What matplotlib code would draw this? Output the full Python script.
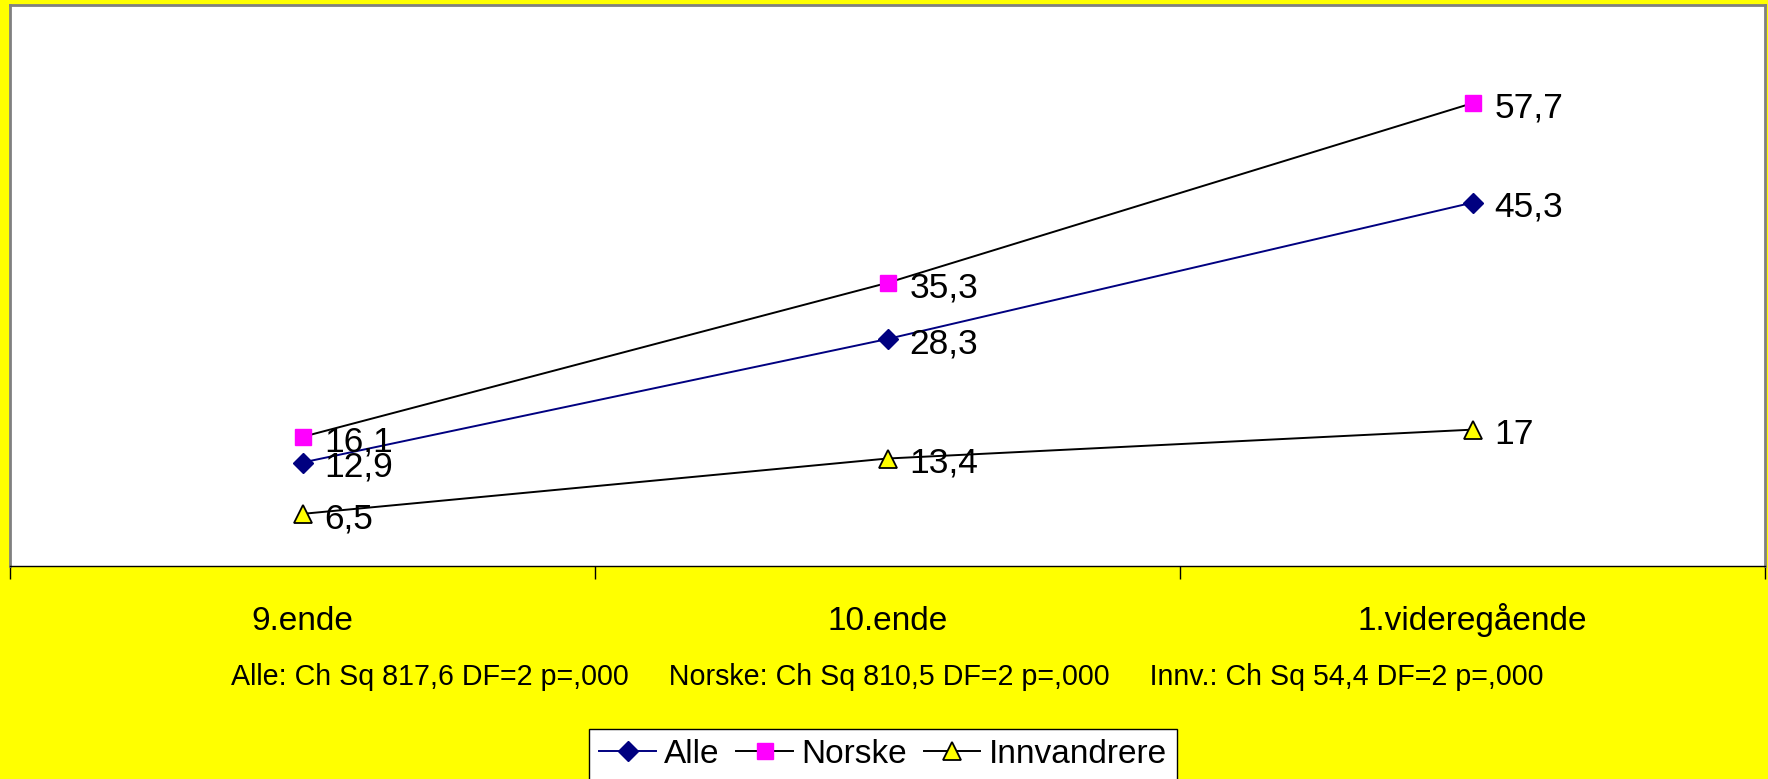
import matplotlib
matplotlib.use("Agg")
import matplotlib.pyplot as plt

categories = ["9.ende", "10.ende", "1.videregående"]
alle = [12.9, 28.3, 45.3]
norske = [16.1, 35.3, 57.7]
innvandrere = [6.5, 13.4, 17.0]
labels_alle = ["12,9", "28,3", "45,3"]
labels_norske = ["16,1", "35,3", "57,7"]
labels_innv = ["6,5", "13,4", "17"]
stats_text = "Alle: Ch Sq 817,6 DF=2 p=,000     Norske: Ch Sq 810,5 DF=2 p=,000     Innv.: Ch Sq 54,4 DF=2 p=,000"

plt.rcParams['font.family'] = ['Liberation Sans', 'DejaVu Sans']

W, H = 1768, 779
fig = plt.figure(figsize=(W / 100, H / 100), dpi=100, facecolor="#FFFF00")
ax = fig.add_axes([10 / W, 1 - 566 / H, 1755 / W, (566 - 4.5) / H])
ax.set_facecolor("white")

x = list(range(len(categories)))
l1, = ax.plot(x, alle, color="#000080", lw=1.4, marker="D", ms=10,
              mfc="#000080", mec="#000080", label="Alle", zorder=3)
l2, = ax.plot(x, norske, color="black", lw=1.4, marker="s", ms=11,
              mfc="#FF00FF", mec="#FF00FF", label="Norske", zorder=3)
l3, = ax.plot(x, innvandrere, color="black", lw=1.4, marker="^", ms=12.5,
              mfc="#FFFF00", mec="black", mew=1.3, label="Innvandrere", zorder=3)

for ys, labs in ((alle, labels_alle), (norske, labels_norske), (innvandrere, labels_innv)):
    for xi, yi, lab in zip(x, ys, labs):
        ax.annotate(lab, (xi, yi), xytext=(16, -3.5), textcoords="offset points",
                    ha="left", va="center", fontsize=25.5, color="black", zorder=4)

ax.set_xlim(-0.5, 2.5)
ax.set_ylim(0, 70)
ax.set_yticks([])
ax.set_xticks(x)
ax.set_xticklabels([])
ax.tick_params(axis="x", which="major", length=0)
ax.set_xticks([-0.5, 0.5, 1.5, 2.5], minor=True)
ax.tick_params(axis="x", which="minor", length=9, width=1, direction="out", color="black")

for xi, cat in zip(x, categories):
    ax.annotate(cat, (xi, 0), xycoords=("data", "axes fraction"),
                xytext=(0, -46), textcoords="offset points",
                ha="center", va="baseline", fontsize=24)

for s in ("top", "left", "right"):
    ax.spines[s].set_color("#808080")
    ax.spines[s].set_linewidth(2)
ax.spines["bottom"].set_color("black")
ax.spines["bottom"].set_linewidth(1)

fig.text(887 / W, 1 - 677 / H, stats_text, ha="center", va="center", fontsize=20.6)

leg = fig.legend(handles=[l1, l2, l3], loc="upper center",
                 bbox_to_anchor=(883 / W, 1 - 729 / H), ncol=3, fontsize=24,
                 frameon=True, fancybox=False, edgecolor="black", facecolor="white",
                 framealpha=1, handlelength=1.7, handletextpad=0.25, columnspacing=0.5,
                 borderpad=0.3, borderaxespad=0)
leg.get_frame().set_linewidth(1)

fig.savefig("out.png", dpi=100, facecolor=fig.get_facecolor())
